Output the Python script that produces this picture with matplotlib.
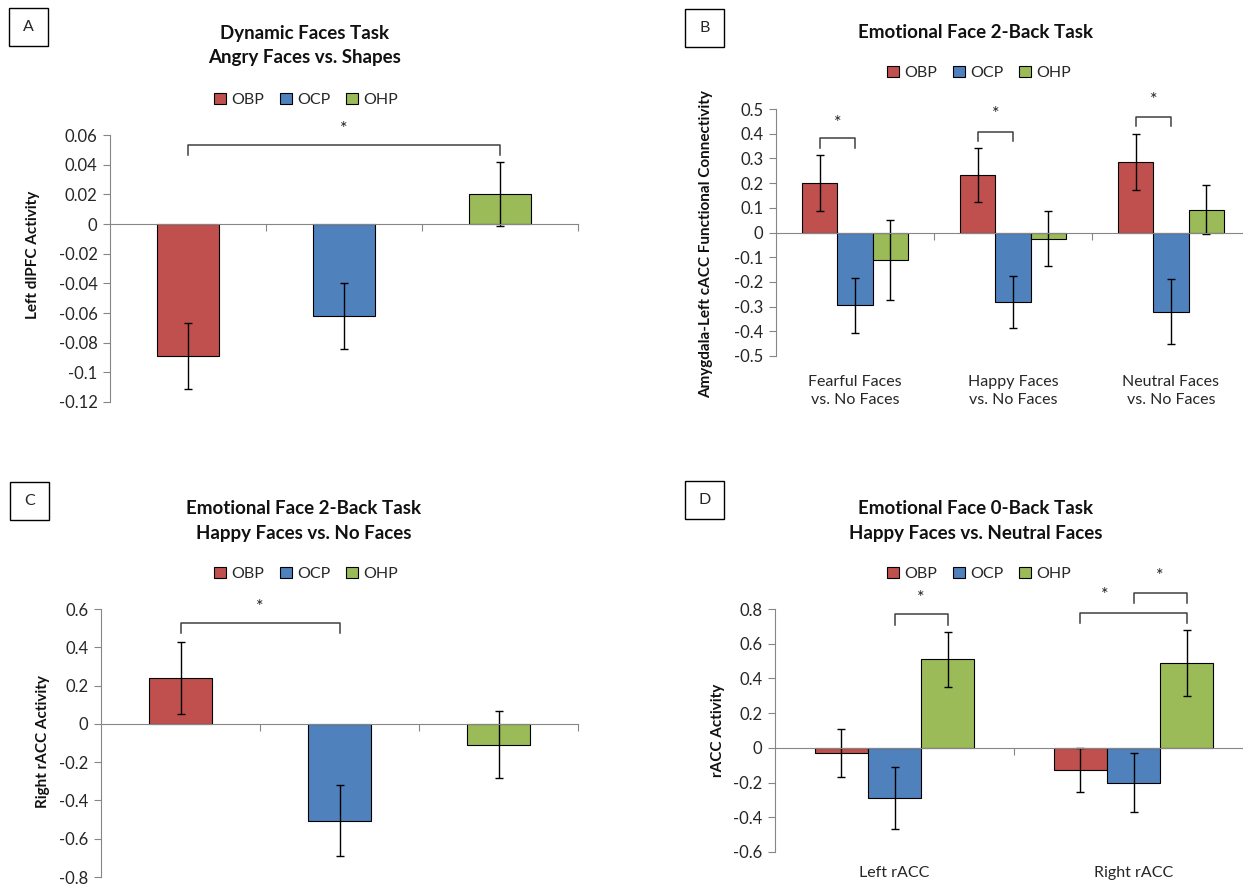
import matplotlib
matplotlib.use('Agg')
import matplotlib.pyplot as plt
from matplotlib.patches import Patch, Rectangle
import numpy as np

plt.rcParams['font.family'] = ['Lato', 'DejaVu Sans']

groups = ['OBP', 'OCP', 'OHP']
colors = ['#C0504D', '#4F81BD', '#9BBB59']

# panel A: dynamic faces task, angry faces vs shapes
a_vals = [-0.089, -0.062, 0.020]
a_err = [0.0225, 0.0225, 0.0215]

# panel B: emotional face 2-back, amygdala-left cACC connectivity
b_cats = ['Fearful Faces\nvs. No Faces', 'Happy Faces\nvs. No Faces', 'Neutral Faces\nvs. No Faces']
b_obp = [0.200, 0.232, 0.285]
b_ocp = [-0.295, -0.280, -0.320]
b_ohp = [-0.110, -0.025, 0.092]
b_obp_err = [0.113, 0.110, 0.112]
b_ocp_err = [0.112, 0.105, 0.133]
b_ohp_err = [0.162, 0.112, 0.100]

# panel C: emotional face 2-back, happy vs no faces
c_vals = [0.240, -0.505, -0.110]
c_err = [0.187, 0.185, 0.175]

# panel D: emotional face 0-back, happy vs neutral faces
d_cats = ['Left rACC', 'Right rACC']
d_obp = [-0.030, -0.130]
d_ocp = [-0.290, -0.200]
d_ohp = [0.510, 0.490]
d_obp_err = [0.138, 0.127]
d_ocp_err = [0.180, 0.168]
d_ohp_err = [0.158, 0.190]

W, H = 1243, 886
axc = '#868686'
txtc = '#262626'
fig = plt.figure(figsize=(W / 100, H / 100), dpi=100)


def box(x0, y0, x1, y1):
    # pixel box -> axes in figure fraction
    return fig.add_axes([x0 / W, 1 - y1 / H, (x1 - x0) / W, (y1 - y0) / H])


def fmt(t):
    t = round(t, 3)
    if abs(t) < 1e-9:
        return '0'
    return '%g' % t


def style(ax, lo, hi, step, ncat):
    ax.set_xlim(-0.5, ncat - 0.5)
    ax.set_ylim(lo, hi)
    ticks = np.arange(lo, hi + step / 2, step)
    ax.set_yticks(ticks)
    ax.set_yticklabels([fmt(t) for t in ticks])
    for s in ['top', 'right']:
        ax.spines[s].set_visible(False)
    ax.spines['left'].set_color(axc)
    ax.spines['bottom'].set_color(axc)
    ax.spines['bottom'].set_position(('data', 0))
    ax.set_xticks(np.arange(ncat) + 0.5)
    ax.set_xticklabels([])
    ax.tick_params(axis='x', direction='out', length=5, color=axc)
    ax.tick_params(axis='y', direction='out', length=5, color=axc,
                   labelsize=12, labelcolor=txtc, pad=4)
    ax.patch.set_alpha(0)


def bracket(ax, x1, x2, ytop, yleg, xs, ys):
    ax.plot([x1, x1, x2, x2], [yleg, ytop, ytop, yleg], color='#404040', lw=1.1,
            clip_on=False)
    ax.text(xs, ys, '*', ha='center', va='center', fontsize=13, color='#202020',
            clip_on=False)


def head(x, y, lines, letter, bx, by):
    for i, ln in enumerate(lines):
        fig.text(x / W, 1 - (y + 25 * i) / H, ln, ha='center', va='center',
                 fontsize=13.5, fontweight='bold', color='#111111')
    fig.add_artist(Rectangle((bx / W, 1 - (by + 38) / H), 39 / W, 38 / H,
                             transform=fig.transFigure, fill=False, lw=1, ec='black'))
    fig.text((bx + 19.5) / W, 1 - (by + 19) / H, letter, ha='center', va='center',
             fontsize=11.5, color=txtc)


def legend(x, y):
    handles = [Patch(facecolor=c, edgecolor='black', lw=0.8, label=g)
               for c, g in zip(colors, groups)]
    fig.legend(handles=handles, loc='center', bbox_to_anchor=(x / W, 1 - y / H),
               ncol=3, frameon=False, handlelength=0.75, handleheight=0.75,
               handletextpad=0.3, columnspacing=1.0, fontsize=11.5,
               labelcolor=txtc, borderpad=0)


def ylab(x, y, s):
    fig.text(x / W, 1 - y / H, s, rotation=90, ha='center', va='center',
             fontsize=11, fontweight='bold', color='#111111')


ekw = dict(ecolor='black', elinewidth=1, capsize=3, capthick=1)

# ---- A
ax = box(110, 135, 578, 402)
style(ax, -0.12, 0.06, 0.02, 3)
xa = np.arange(3)
ax.bar(xa, a_vals, width=0.4, color=colors, edgecolor='black', lw=0.8,
       yerr=a_err, error_kw=ekw)
bracket(ax, 0, 2, 0.053, 0.0465, 1, 0.064)
head(305, 33, ['Dynamic Faces Task', 'Angry Faces vs. Shapes'], 'A', 9, 8)
legend(306, 100)
ylab(33, 255, 'Left dlPFC Activity')

# grouped bar width (Excel gap width 150%)
w = 1 / 4.5
offs = [-w, 0, w]

# ---- B
ax = box(776, 109, 1250, 356)
style(ax, -0.5, 0.5, 0.1, 3)
xb = np.arange(3)
for o, v, e, c in zip(offs, [b_obp, b_ocp, b_ohp], [b_obp_err, b_ocp_err, b_ohp_err], colors):
    ax.bar(xb + o, v, width=w, color=c, edgecolor='black', lw=0.8, yerr=e, error_kw=ekw)
for i, lab in enumerate(b_cats):
    ax.text(i, -0.142, lab, transform=ax.get_xaxis_transform(), ha='center',
            va='center', fontsize=11.5, color=txtc, linespacing=1.4)
bracket(ax, -w, 0, 0.383, 0.343, -w / 2, 0.445)
bracket(ax, 1 - w, 1, 0.405, 0.370, 1 - w / 2, 0.478)
bracket(ax, 2 - w, 2, 0.467, 0.430, 2 - w / 2, 0.538)
head(976, 33, ['Emotional Face 2-Back Task'], 'B', 685, 9)
legend(979, 73)
ylab(706, 244, 'Amygdala-Left cACC Functional Connectivity')

# ---- C
ax = box(101, 609, 578, 877)
style(ax, -0.8, 0.6, 0.2, 3)
xc = np.arange(3)
ax.bar(xc, c_vals, width=0.4, color=colors, edgecolor='black', lw=0.8,
       yerr=c_err, error_kw=ekw)
bracket(ax, 0, 1, 0.525, 0.473, 0.5, 0.61)
head(304, 508, ['Emotional Face 2-Back Task', 'Happy Faces vs. No Faces'], 'C', 10, 482)
legend(306, 574)
ylab(43, 742, 'Right rACC Activity')

# ---- D
ax = box(775, 609, 1253, 852)
style(ax, -0.6, 0.8, 0.2, 2)
xd = np.arange(2)
for o, v, e, c in zip(offs, [d_obp, d_ocp, d_ohp], [d_obp_err, d_ocp_err, d_ohp_err], colors):
    ax.bar(xd + o, v, width=w, color=c, edgecolor='black', lw=0.8, yerr=e, error_kw=ekw)
for i, lab in enumerate(d_cats):
    ax.text(i, -0.086, lab, transform=ax.get_xaxis_transform(), ha='center',
            va='center', fontsize=11.5, color=txtc)
bracket(ax, 0, w, 0.771, 0.708, w / 2, 0.865)
bracket(ax, 1 - w, 1 + w, 0.779, 0.717, 1 - 0.12, 0.88)
bracket(ax, 1, 1 + w, 0.894, 0.833, 1 + w / 2, 0.99)
head(976, 508, ['Emotional Face 0-Back Task', 'Happy Faces vs. Neutral Faces'], 'D', 685, 481)
legend(979, 574)
ylab(718, 730, 'rACC Activity')

fig.savefig('out.png', dpi=100)
